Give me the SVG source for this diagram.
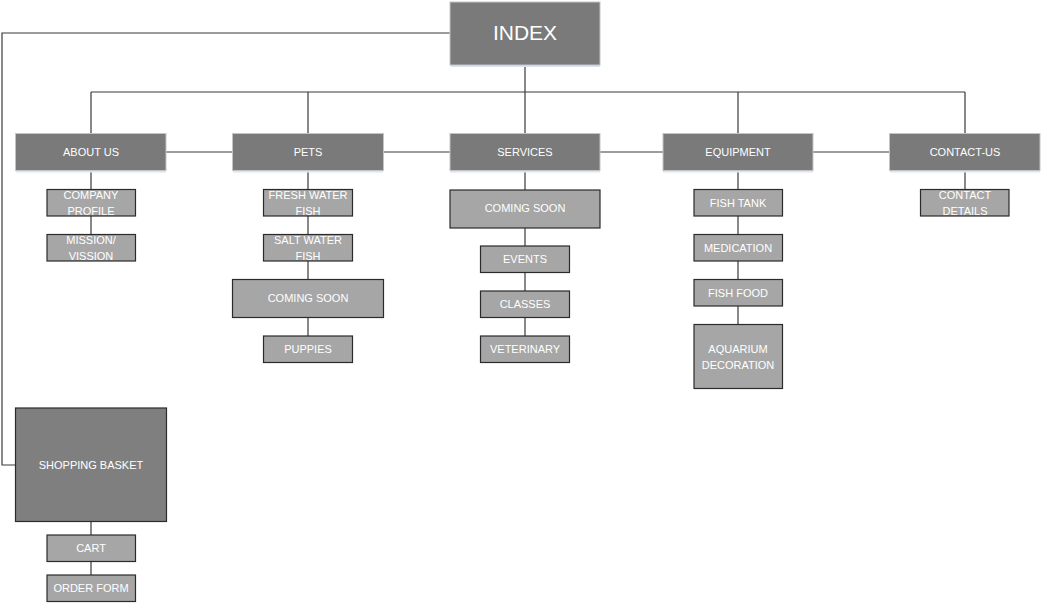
<svg xmlns="http://www.w3.org/2000/svg" width="1043" height="604" viewBox="0 0 1043 604">
<style>
.main{fill:#7a7a7a;stroke:#c4c4c4;stroke-width:1}
.shadow{fill:none;stroke:#dbe6f4;stroke-width:2}
.sub{fill:#a6a6a6;stroke:#2b2b2b;stroke-width:1.2}
.basket{fill:#7f7f7f;stroke:#2b2b2b;stroke-width:1.2}
.t{font-family:"Liberation Sans",Arial,sans-serif;font-size:11px;fill:#ffffff;text-anchor:middle}
.big{font-size:21px}
.con{fill:none;stroke:#3a3a3a;stroke-width:1.2}
</style>
<rect width="1043" height="604" fill="#ffffff"/>
<g id="connectors" class="con">
<path d="M450,33 H2 V465 H15"/>
<path d="M525,65 V133"/>
<path d="M91,92 H965"/>
<path d="M91,92 V133 M308,92 V133 M738,92 V133 M965,92 V133"/>
<path d="M166,152 H233 M384,152 H450 M600,152 H663 M813,152 H890"/>
<path d="M91,170 V189 M91,216 V234"/>
<path d="M308,170 V189 M308,216 V234 M308,261 V279 M308,317 V336"/>
<path d="M525,170 V190 M525,228 V246 M525,272 V291 M525,317 V336"/>
<path d="M738,170 V189 M738,216 V234 M738,261 V279 M738,306 V324"/>
<path d="M965,170 V189"/>
<path d="M91,521 V535 M91,561 V575"/>
</g>
<g id="index"><line class="shadow" x1="451" y1="66" x2="600" y2="66"/><rect class="main" x="450" y="2" width="150" height="63"/><text class="t big" x="525" y="40">INDEX</text></g>
<g id="about-us"><line class="shadow" x1="16" y1="171.5" x2="166" y2="171.5"/><rect class="main" x="15.5" y="133.5" width="150.5" height="37"/><text class="t" x="91" y="156">ABOUT US</text></g>
<g id="pets"><line class="shadow" x1="233" y1="171.5" x2="383" y2="171.5"/><rect class="main" x="232.5" y="133.5" width="151" height="37"/><text class="t" x="308" y="156">PETS</text></g>
<g id="services"><line class="shadow" x1="450" y1="171.5" x2="600" y2="171.5"/><rect class="main" x="450" y="133.5" width="150" height="37"/><text class="t" x="525" y="156">SERVICES</text></g>
<g id="equipment"><line class="shadow" x1="663" y1="171.5" x2="813" y2="171.5"/><rect class="main" x="663" y="133.5" width="150" height="37"/><text class="t" x="738" y="156">EQUIPMENT</text></g>
<g id="contact-us"><line class="shadow" x1="890" y1="171.5" x2="1040" y2="171.5"/><rect class="main" x="889.5" y="133.5" width="150.5" height="37"/><text class="t" x="965" y="156">CONTACT-US</text></g>

<g id="company-profile"><rect class="sub" x="47" y="189.5" width="88.5" height="26.5"/><text class="t" x="91" y="199">COMPANY</text><text class="t" x="91" y="215">PROFILE</text></g>
<g id="mission-vission"><rect class="sub" x="47" y="234.5" width="88.5" height="26.5"/><text class="t" x="91" y="244">MISSION/</text><text class="t" x="91" y="260">VISSION</text></g>

<g id="fresh-water-fish"><rect class="sub" x="263.5" y="189.5" width="89" height="26.5"/><text class="t" x="308" y="199">FRESH WATER</text><text class="t" x="308" y="215">FISH</text></g>
<g id="salt-water-fish"><rect class="sub" x="263.5" y="234.5" width="89" height="26.5"/><text class="t" x="308" y="244">SALT WATER</text><text class="t" x="308" y="260">FISH</text></g>
<g id="pets-coming-soon"><rect class="sub" x="232.5" y="279.5" width="151" height="38"/><text class="t" x="308" y="302">COMING SOON</text></g>
<g id="puppies"><rect class="sub" x="263.5" y="336" width="89" height="26.5"/><text class="t" x="308" y="353">PUPPIES</text></g>

<g id="services-coming-soon"><rect class="sub" x="450" y="190" width="150" height="38"/><text class="t" x="525" y="212">COMING SOON</text></g>
<g id="events"><rect class="sub" x="480.5" y="246" width="89" height="26.5"/><text class="t" x="525" y="263">EVENTS</text></g>
<g id="classes"><rect class="sub" x="480.5" y="291" width="89" height="26.5"/><text class="t" x="525" y="308">CLASSES</text></g>
<g id="veterinary"><rect class="sub" x="480.5" y="336" width="89" height="26.5"/><text class="t" x="525" y="353">VETERINARY</text></g>

<g id="fish-tank"><rect class="sub" x="694" y="189.5" width="88.5" height="26.5"/><text class="t" x="738" y="207">FISH TANK</text></g>
<g id="medication"><rect class="sub" x="694" y="234.5" width="88.5" height="26.5"/><text class="t" x="738" y="252">MEDICATION</text></g>
<g id="fish-food"><rect class="sub" x="694" y="279.5" width="88.5" height="26.5"/><text class="t" x="738" y="297">FISH FOOD</text></g>
<g id="aquarium-decoration"><rect class="sub" x="694" y="324.5" width="88.5" height="64"/><text class="t" x="738" y="353">AQUARIUM</text><text class="t" x="738" y="369">DECORATION</text></g>

<g id="contact-details"><rect class="sub" x="920.5" y="189.5" width="88.5" height="26.5"/><text class="t" x="965" y="199">CONTACT</text><text class="t" x="965" y="215">DETAILS</text></g>

<g id="shopping-basket"><rect class="basket" x="15.5" y="408" width="151" height="113.5"/><text class="t" x="91" y="469">SHOPPING BASKET</text></g>
<g id="cart"><rect class="sub" x="47" y="535" width="88.5" height="26.5"/><text class="t" x="91" y="552">CART</text></g>
<g id="order-form"><rect class="sub" x="47" y="575" width="88.5" height="26.5"/><text class="t" x="91" y="592">ORDER FORM</text></g>
</svg>
